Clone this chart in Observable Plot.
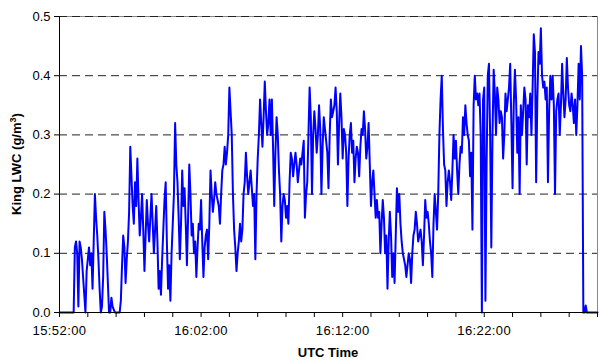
<!DOCTYPE html>
<html><head><meta charset="utf-8">
<script src="https://cdn.jsdelivr.net/npm/d3@7"></script>
<script src="https://cdn.jsdelivr.net/npm/@observablehq/plot@0.6"></script>
<style>body{margin:0;background:#fff} #chart svg{display:block}</style>
</head><body><div id="chart"></div>
<script>
// ---- data (one value every 5 s) ----
const startTime = "15:52:00";
const endTime = "16:30:00";
const sampleSeconds = 5;
const lwc = [
0,0,0,0,0,0,0,0,0,0,0,0,0,0.11,0.12,0.1,0.01,0.12,0.11,0.09,
0.06,0.03,0,0.07,0.09,0.11,0.08,0.1,0.04,0.12,0.2,0.16,0.13,0.09,0.04,0,0.01,0.06,0.17,0.14,
0.1,0.05,0,0,0.025,0.01,0.005,0,0,0,0,0,0.02,0.08,0.13,0.11,0.05,0.09,0.12,0.17,
0.28,0.23,0.18,0.15,0.22,0.18,0.26,0.19,0.13,0.16,0.2,0.14,0.07,0.13,0.19,0.15,0.12,0.16,0.2,0.15,
0.1,0.14,0.18,0.12,0.04,0.07,0.03,0.09,0.14,0.19,0.22,0.12,0.04,0.08,0.02,0.1,0.15,0.2,0.32,0.25,
0.22,0.16,0.09,0.15,0.24,0.18,0.21,0.15,0.08,0.16,0.25,0.2,0.13,0.15,0.1,0.12,0.06,0.11,0.15,0.14,
0.19,0.12,0.06,0.11,0.13,0.14,0.09,0.15,0.24,0.2,0.17,0.19,0.22,0.2,0.19,0.18,0.15,0.2,0.24,0.25,
0.28,0.25,0.27,0.3,0.38,0.34,0.3,0.2,0.14,0.11,0.07,0.1,0.12,0.15,0.12,0.14,0.2,0.22,0.27,0.23,
0.2,0.22,0.24,0.21,0.18,0.2,0.09,0.2,0.26,0.3,0.36,0.32,0.28,0.33,0.39,0.34,0.3,0.32,0.36,0.3,
0.36,0.28,0.18,0.27,0.33,0.3,0.24,0.2,0.12,0.18,0.2,0.19,0.16,0.18,0.15,0.22,0.27,0.26,0.23,0.25,
0.27,0.25,0.22,0.24,0.26,0.25,0.27,0.29,0.16,0.2,0.22,0.3,0.38,0.33,0.2,0.3,0.34,0.31,0.27,0.3,
0.35,0.31,0.2,0.28,0.33,0.31,0.29,0.27,0.21,0.3,0.36,0.33,0.34,0.35,0.38,0.34,0.25,0.32,0.37,0.33,
0.26,0.31,0.3,0.27,0.18,0.26,0.3,0.32,0.27,0.29,0.22,0.26,0.28,0.27,0.23,0.28,0.31,0.3,0.34,0.31,
0.26,0.28,0.32,0.25,0.18,0.22,0.24,0.2,0.16,0.19,0.16,0.17,0.1,0.15,0.19,0.16,0.1,0.13,0.04,0.12,
0.17,0.13,0.06,0.1,0.05,0.13,0.21,0.17,0.2,0.15,0.12,0.1,0.09,0.08,0.06,0.08,0.1,0.09,0.05,0.1,
0.13,0.14,0.17,0.15,0.12,0.13,0.14,0.12,0.08,0.13,0.19,0.16,0.17,0.15,0.12,0.1,0.06,0.15,0.2,0.17,
0.14,0.2,0.3,0.36,0.4,0.31,0.25,0.24,0.18,0.22,0.24,0.22,0.19,0.24,0.3,0.26,0.29,0.24,0.2,0.25,
0.28,0.27,0.33,0.3,0.35,0.32,0.3,0.29,0.23,0.27,0.14,0.35,0.4,0.36,0.37,0.35,0.37,0.3,0,0.36,
0.38,0.02,0.25,0.4,0.42,0.3,0.11,0.3,0.41,0.37,0.3,0.38,0.36,0.32,0.34,0.33,0.26,0.3,0.37,0.34,
0.36,0.38,0.42,0.32,0.21,0.35,0.41,0.36,0.27,0.33,0.2,0.35,0.3,0.34,0.38,0.36,0.25,0.35,0.33,0.37,
0.3,0.38,0.47,0.44,0.22,0.36,0.44,0.42,0.48,0.4,0.38,0.39,0.36,0.38,0.22,0.34,0.4,0.36,0.4,0.35,
0.2,0.34,0.36,0.37,0.3,0.35,0.42,0.37,0.33,0.36,0.43,0.38,0.35,0.34,0.37,0.35,0.32,0.36,0.3,0.35,
0.42,0.36,0.45,0.4,0,0,0.012,0,0,0,0,0,0,0,0,0,0
];
const yTicks = [0, 0.1, 0.2, 0.3, 0.4, 0.5];
const gridValues = [0.1, 0.2, 0.3, 0.4, 0.5];
const xLabelTimes = ["15:52:00", "16:02:00", "16:12:00", "16:22:00"];
const xTitle = "UTC Time";
const yTitleParts = ["King LWC (g/m", "3", ")"];

// ---- build ----
function parseT(s) { const [h, m, sec] = s.split(":").map(Number); return new Date(Date.UTC(2000, 0, 1, h, m, sec)); }
const t0 = parseT(startTime);
const t1 = parseT(endTime);
const data = lwc.map((v, i) => ({ time: new Date(+t0 + i * sampleSeconds * 1000), lwc: v }));
const xTicks = d3.utcMinute.every(2).range(t0, new Date(+t1 + 1000));
const fmt = d3.utcFormat("%H:%M:%S");
const labelSet = new Set(xLabelTimes);

const plot = Plot.plot({
  width: 600, height: 360,
  marginLeft: 59, marginRight: 3, marginTop: 16, marginBottom: 48,
  x: { type: "utc", domain: [t0, t1] },
  y: { domain: [0, 0.5] },
  style: { fontFamily: "'Liberation Sans', Arial, sans-serif", fontSize: "13px", color: "#000", background: "#fff" },
  marks: [
    Plot.frame({ stroke: "#888" }),
    Plot.ruleY(gridValues, { stroke: "#222", strokeDasharray: "8,5", strokeWidth: 1 }),
    Plot.line(data, { x: "time", y: "lwc", stroke: "#0000ff", strokeWidth: 2 }),
    Plot.ruleY([0], { stroke: "#000" }),
    Plot.ruleX([t0], { stroke: "#000" }),
    Plot.axisY({ ticks: yTicks, tickFormat: d3.format(".1f"), tickSize: 5, tickPadding: 4, label: null }),
    Plot.axisX({ ticks: xTicks, tickFormat: d => labelSet.has(fmt(d)) ? fmt(d) : "", tickSize: 5, tickPadding: 8, label: null })
  ]
});

const svg = d3.select(plot);
svg.selectAll("[aria-label='x-axis tick label'] text").attr("letter-spacing", "0.4px");
svg.append("text")
  .attr("x", 328).attr("y", 357)
  .attr("text-anchor", "middle")
  .attr("font-weight", "bold").attr("font-size", "13px")
  .text(xTitle);
const yt = svg.append("text")
  .attr("transform", "translate(21,164) rotate(-90)")
  .attr("text-anchor", "middle")
  .attr("font-weight", "bold").attr("font-size", "13px");
yt.append("tspan").text(yTitleParts[0]);
yt.append("tspan").attr("font-size", "9px").attr("dy", "-5").text(yTitleParts[1]);
yt.append("tspan").attr("dy", "5").text(yTitleParts[2]);

document.getElementById("chart").appendChild(plot);
</script>
</body></html>
